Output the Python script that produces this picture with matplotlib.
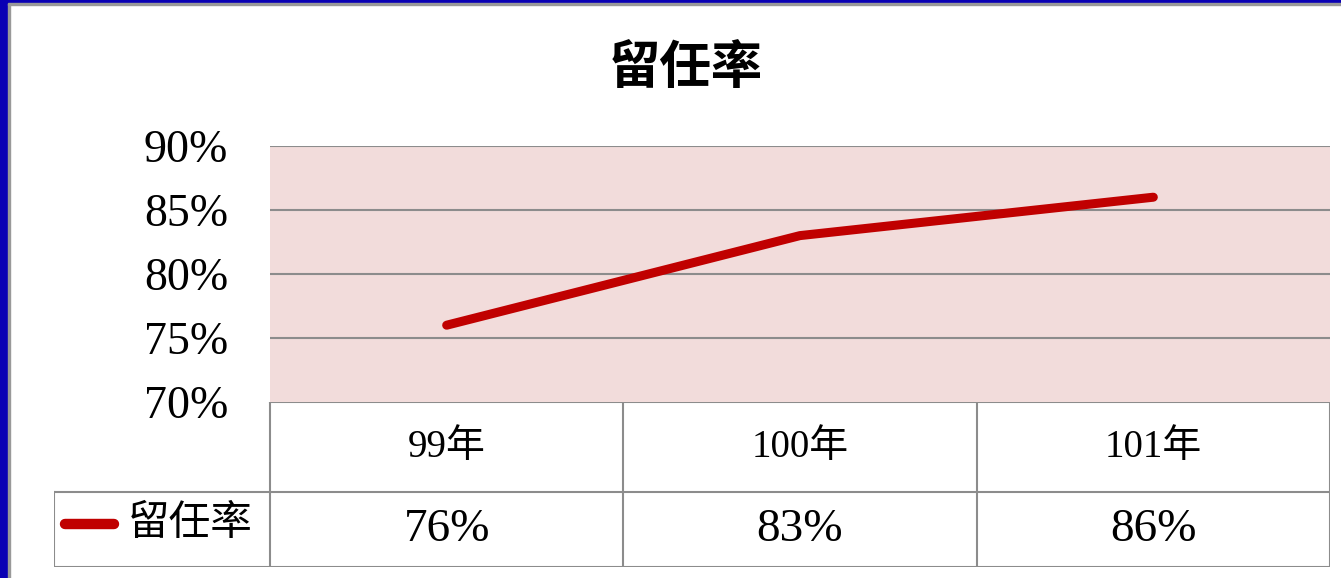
import matplotlib
matplotlib.use("Agg")
from matplotlib import pyplot as plt
from matplotlib.patches import Rectangle

plt.rcParams['font.family'] = ['Liberation Serif', 'Noto Sans CJK TC']

title = "留任率"
series_name = "留任率"
years = ["99年", "100年", "101年"]
rates = [76, 83, 86]
yticks = [70, 75, 80, 85, 90]

W, H = 1341, 578
fig = plt.figure(figsize=(W / 100, H / 100), dpi=100)

def box(x0, y0, x1, y1):
    # pixel box (top-left origin) -> figure fraction rect
    return [x0 / W, 1 - y1 / H, (x1 - x0) / W, (y1 - y0) / H]

# blue frame of the slide
fig.patches.append(Rectangle((0, 0), 8 / W, 1, transform=fig.transFigure, color="#0a00b4", zorder=0))
fig.patches.append(Rectangle((8 / W, 0), 1.5 / W, 1 - 3 / H, transform=fig.transFigure, color="#999999", zorder=0))
fig.patches.append(Rectangle((0, 1 - 3 / H), 1, 3 / H, transform=fig.transFigure, color="#0a00b4", zorder=0))
fig.patches.append(Rectangle((8 / W, 1 - 5 / H), 1, 2 / H, transform=fig.transFigure, color="#999999", zorder=0))

ax = fig.add_axes(box(270, 146, 1330, 402))
ax.set_facecolor("#f2dcdb")
x = [i + 0.5 for i in range(len(years))]
ax.plot(x, rates, color="#c00000", lw=6.5, solid_capstyle="round", zorder=3)
ax.set_xlim(0, len(years))
ax.set_ylim(yticks[0], yticks[-1])
ax.set_yticks(yticks)
ax.set_yticklabels(["%d%%" % v for v in yticks], fontsize=33)
ax.tick_params(axis="y", length=0, pad=30)
ax.set_xticks([])
for v in yticks[1:]:
    ax.axhline(v, color="#8c8c8c", lw=1.5, zorder=1)
for s in ax.spines.values():
    s.set_visible(False)

fig.text(686 / W, 1 - 67 / H, title, ha="center", va="center", fontsize=37,
         fontweight="bold", family="Noto Sans CJK TC")

# data table under the plot (y in pixels from the bottom of the table)
tx = fig.add_axes(box(54, 402, 1330, 567))
left = (54 - 270) / ((1330 - 270) / 3)
tx.set_xlim(left, len(years))
tx.set_ylim(0, 165)
tx.axis("off")
lc = "#8c8c8c"
tx.plot([0, len(years)], [165, 165], color=lc, lw=1.5)
tx.plot([left, len(years)], [75, 75], color=lc, lw=1.5)
tx.plot([left, len(years)], [0, 0], color=lc, lw=1.5)
tx.plot([left, left], [0, 75], color=lc, lw=1.5)
for i in range(len(years) + 1):
    tx.plot([i, i], [0, 165], color=lc, lw=1.5)
for i, (yr, r) in enumerate(zip(years, rates)):
    tx.text(i + 0.5, 119, yr, ha="center", va="center", fontsize=28)
    tx.text(i + 0.5, 37, "%d%%" % r, ha="center", va="center", fontsize=34)
tx.plot([left + 0.03, left + 0.17], [43, 43], color="#c00000", lw=7.5, solid_capstyle="round")
tx.text(left + 0.21, 43, series_name, ha="left", va="center", fontsize=30, family="Noto Sans CJK TC")

fig.savefig("out.png", dpi=100)
